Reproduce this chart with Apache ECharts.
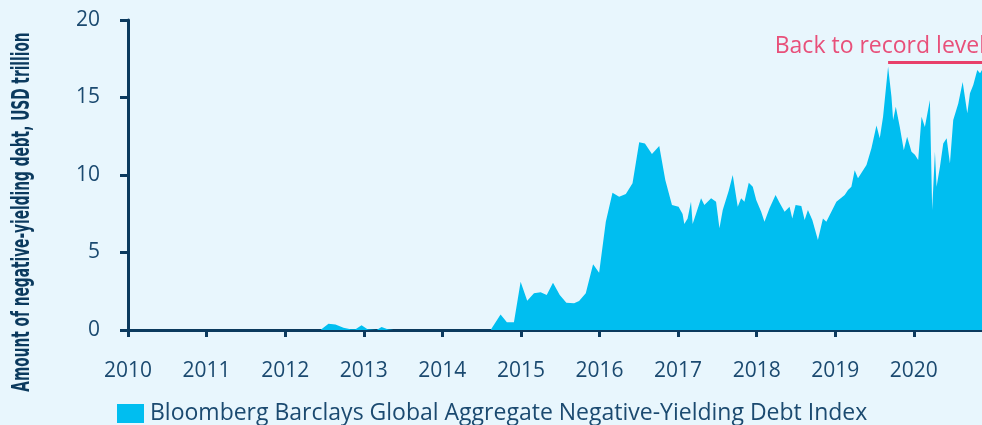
<!DOCTYPE html>
<html><head><meta charset="utf-8">
<script src="https://cdn.jsdelivr.net/npm/echarts@6/dist/echarts.min.js"></script>
<style>html,body{margin:0;padding:0;background:#e8f6fd;}#c{width:982px;height:425px;}</style>
</head><body><div id="c"></div>
<script>
const years = [2010,2012.449,2012.551,2012.640,2012.742,2012.832,2012.895,2012.972,2013.048,2013.163,2013.227,2013.304,2013.380,
2014.614,2014.741,2014.821,2014.911,2014.996,2015.080,2015.166,2015.251,2015.328,2015.408,2015.494,2015.578,2015.676,2015.740,2015.825,2015.918,2015.995,
2016.080,2016.165,2016.250,2016.335,2016.420,2016.505,2016.578,2016.667,2016.760,2016.837,2016.922,
2017.006,2017.057,2017.079,2017.121,2017.164,2017.185,2017.228,2017.292,2017.334,2017.376,2017.420,2017.483,2017.526,2017.568,2017.644,2017.695,2017.759,2017.802,2017.844,2017.899,2017.950,2017.994,
2018.057,2018.099,2018.163,2018.240,2018.291,2018.355,2018.418,2018.453,2018.495,2018.568,2018.610,2018.652,2018.708,2018.779,2018.843,2018.886,
2019.014,2019.120,2019.162,2019.205,2019.247,2019.289,2019.397,2019.460,2019.524,2019.566,2019.608,2019.672,2019.715,2019.736,2019.770,2019.821,2019.872,2019.914,2019.970,
2020.013,2020.055,2020.098,2020.140,2020.204,2020.233,2020.268,2020.289,2020.332,2020.374,2020.417,2020.459,2020.501,2020.565,2020.621,2020.680,2020.714,2020.756,2020.807,2020.842,2020.867];
const debt = [0,0,0.4,0.35,0.15,0.05,0.05,0.3,0.05,0,0.2,0.05,0,
0,1.0,0.5,0.5,3.12,1.89,2.37,2.43,2.26,3.05,2.26,1.76,1.72,1.87,2.37,4.24,3.70,
6.99,8.86,8.6,8.77,9.46,12.11,12.04,11.35,11.87,9.68,8.06,
7.95,7.48,6.84,7.2,8.28,6.84,7.5,8.5,8.06,8.28,8.5,8.28,6.56,7.74,8.99,10.0,7.95,8.5,8.28,9.5,9.25,8.39,
7.63,6.99,7.85,8.71,8.21,7.63,7.95,7.2,8.06,8.0,7.1,7.74,7.1,5.8,7.2,6.99,
8.28,8.71,9.03,9.25,10.3,9.79,10.65,11.72,13.2,12.37,13.76,16.99,15.05,13.55,14.4,13.1,11.6,12.47,11.5,
11.3,10.97,13.76,13.1,14.84,7.74,11.5,9.25,10.54,12.04,12.37,10.75,13.55,14.62,16.0,13.98,15.27,15.8,16.77,16.56,16.77];
const yTicks = [0,5,10,15,20];
const recordLevel = 17.3;
const recordStart = 2019.672;
const xMax = 2020.867;
const seriesName = 'Bloomberg Barclays Global Aggregate Negative-Yielding Debt Index';
const yTitle = 'Amount of negative-yielding debt, USD trillion';
const noteText = 'Back to record level';

const navy = '#0b3a5e', txt = '#1b4a70';
const chart = echarts.init(document.getElementById('c'));
chart.setOption({
  backgroundColor: '#e8f6fd',
  animation: false,
  grid: {left: 128, right: 0, top: 20, bottom: 95, outerBoundsMode: 'none', containLabel: false},
  legend: {
    left: 112, top: 397, itemWidth: 27, itemHeight: 19, itemGap: 10,
    icon: 'rect',
    textStyle: {color: txt, fontSize: 23, fontFamily: 'Open Sans', padding: [0,0,0,1]},
    data: [seriesName]
  },
  xAxis: {
    type: 'value', min: 2010, max: xMax, interval: 1,
    axisLine: {show: true, onZero: false, lineStyle: {color: navy, width: 3}},
    axisTick: {show: true, length: 7, lineStyle: {color: navy, width: 3}},
    axisLabel: {color: txt, fontSize: 21, fontFamily: 'Open Sans', margin: 31,
      formatter: v => Math.abs(v-Math.round(v))<1e-6 ? String(Math.round(v)) : '',
      showMaxLabel: false},
    splitLine: {show: false}
  },
  yAxis: {
    type: 'value', min: 0, max: 20, interval: 5,
    axisLine: {show: true, lineStyle: {color: navy, width: 3}},
    axisTick: {show: true, length: 8, inside: false, lineStyle: {color: navy, width: 3}},
    axisLabel: {color: txt, fontSize: 21, fontFamily: 'Open Sans', margin: 28,
      formatter: v => yTicks.includes(v) ? String(v) : ''},
    splitLine: {show: false}
  },
  series: [{
    name: seriesName, type: 'line', symbol: 'none',
    data: years.map((y, i) => [y, debt[i]]),
    lineStyle: {width: 0, color: '#00bef0'},
    itemStyle: {color: '#00bef0'},
    areaStyle: {color: '#00bef0', opacity: 1},
    z: 1,
    markLine: {
      silent: true, symbol: 'none',
      lineStyle: {color: '#e8406a', width: 3, type: 'solid'},
      label: {show: false},
      data: [[{coord: [recordStart, recordLevel]}, {coord: [xMax, recordLevel]}]]
    }
  }],
  graphic: [{
    type: 'text', right: -3, top: 35,
    style: {text: noteText, fill: '#e8507a', fontSize: 23, fontFamily: 'Open Sans'}
  }, {
    type: 'text', x: 22, y: 212, rotation: Math.PI/2, scaleX: 0.61,
    style: {text: yTitle, fill: navy, fontSize: 25, fontWeight: 'bold', fontFamily: 'DejaVu Sans Condensed',
      textAlign: 'center', textVerticalAlign: 'middle'}
  }]
});
</script></body></html>
